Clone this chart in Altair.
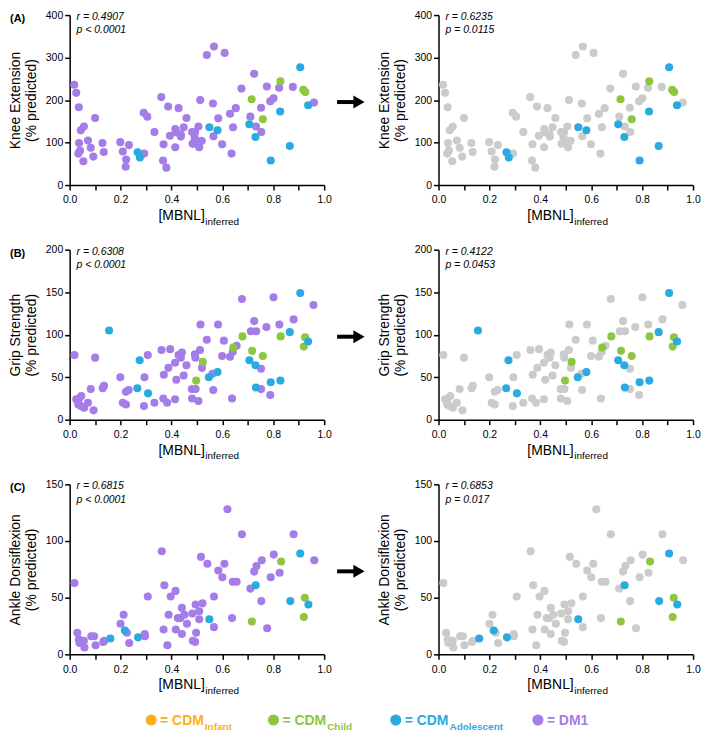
import altair as alt
import pandas as pd

# ---------------- data ----------------
GROUPS = ["CDM Infant", "CDM Child", "CDM Adolescent", "DM1"]
COLORS = ["#FBB01B", "#8DC63F", "#29ABE2", "#A47DE8"]
GREY = "#CBCBCB"

# Knee extension (% predicted)
knee_dm1_x = [0.018, 0.026, 0.036, 0.056, 0.044, 0.037, 0.041, 0.034, 0.054, 0.072, 0.083, 0.093, 0.100,
              0.129, 0.134, 0.199, 0.209, 0.222, 0.220, 0.233, 0.293, 0.291, 0.305, 0.333, 0.360, 0.367,
              0.380, 0.369, 0.387, 0.394, 0.415, 0.419, 0.415, 0.428, 0.437, 0.437, 0.448, 0.459, 0.481,
              0.493, 0.483, 0.497, 0.509, 0.519, 0.506, 0.513, 0.491, 0.539, 0.567, 0.609, 0.563, 0.565,
              0.584, 0.599, 0.630, 0.653, 0.642, 0.636, 0.675, 0.710, 0.725, 0.732, 0.753, 0.752, 0.775,
              0.788, 0.801, 0.823, 0.877, 0.960]
knee_dm1_y = [236, 217, 183, 138, 129, 99, 81, 74, 56, 105, 88, 67, 158,
              99, 78, 101, 79, 60, 43, 94, 74, 170, 161, 125, 207, 58,
              41, 96, 185, 116, 132, 124, 89, 181, 119, 114, 136, 158, 125,
              124, 97, 104, 89, 104, 138, 200, 112, 306, 326, 311, 192, 115,
              157, 96, 168, 181, 136, 74, 227, 161, 262, 138, 125, 182, 232,
              197, 204, 229, 231, 194]
knee_child_x = [0.715, 0.759, 0.828, 0.918, 0.926]
knee_child_y = [202, 155, 244, 224, 219]
knee_adol_x = [0.267, 0.276, 0.549, 0.581, 0.706, 0.730, 0.790, 0.827, 0.865, 0.906, 0.937]
knee_adol_y = [77, 65, 136, 129, 143, 113, 58, 173, 92, 277, 188]

# Grip strength (% predicted)
grip_dm1_x = [0.019, 0.026, 0.037, 0.046, 0.034, 0.044, 0.057, 0.072, 0.083, 0.094, 0.100, 0.130, 0.135,
              0.199, 0.209, 0.221, 0.221, 0.232, 0.307, 0.294, 0.292, 0.333, 0.361, 0.395, 0.370, 0.388,
              0.368, 0.383, 0.414, 0.419, 0.414, 0.428, 0.437, 0.441, 0.448, 0.459, 0.492, 0.494, 0.480,
              0.495, 0.481, 0.506, 0.514, 0.512, 0.520, 0.539, 0.561, 0.564, 0.583, 0.599, 0.606, 0.630,
              0.641, 0.656, 0.638, 0.677, 0.712, 0.725, 0.733, 0.752, 0.752, 0.773, 0.788, 0.801, 0.824,
              0.880, 0.958]
grip_dm1_y = [76, 24, 25, 28, 18, 16, 14, 20, 36, 11, 73, 37, 40,
              50, 20, 18, 33, 35, 76, 50, 16, 20, 82, 83, 53, 61,
              25, 20, 67, 47, 24, 76, 73, 79, 52, 64, 77, 73, 36,
              36, 25, 22, 112, 82, 61, 94, 54, 35, 112, 75, 93, 74,
              80, 87, 25, 142, 104, 116, 104, 60, 36, 109, 29, 144, 112,
              118, 135]
grip_child_x = [0.497, 0.523, 0.643, 0.679, 0.717, 0.759, 0.829, 0.920, 0.925]
grip_child_y = [46, 68, 85, 98, 81, 75, 98, 86, 97]
grip_adol_x = [0.155, 0.275, 0.266, 0.308, 0.547, 0.581, 0.706, 0.730, 0.732, 0.790, 0.828, 0.865, 0.906, 0.937]
grip_adol_y = [105, 70, 37, 31, 50, 56, 70, 64, 38, 44, 46, 103, 149, 92]

# Ankle dorsiflexion (% predicted)
ankle_dm1_x = [0.019, 0.030, 0.036, 0.045, 0.056, 0.039, 0.058, 0.085, 0.096, 0.102, 0.132, 0.136, 0.200,
               0.212, 0.225, 0.234, 0.295, 0.296, 0.307, 0.362, 0.372, 0.369, 0.384, 0.389, 0.397, 0.416,
               0.417, 0.425, 0.435, 0.441, 0.441, 0.451, 0.461, 0.482, 0.495, 0.484, 0.493, 0.497, 0.509,
               0.509, 0.516, 0.522, 0.541, 0.567, 0.567, 0.584, 0.600, 0.608, 0.620, 0.638, 0.641, 0.656,
               0.677, 0.710, 0.725, 0.734, 0.755, 0.753, 0.776, 0.790, 0.802, 0.825, 0.880, 0.961]
ankle_dm1_y = [63, 19, 13, 12, 12, 10, 6, 16, 16, 8, 11, 12, 27,
               35, 19, 10, 18, 16, 51, 91, 61, 22, 8, 35, 51, 56,
               22, 32, 32, 41, 18, 35, 27, 36, 44, 12, 11, 19, 38,
               31, 86, 45, 80, 51, 24, 74, 68, 80, 128, 32, 64, 64,
               106, 58, 73, 78, 83, 47, 23, 68, 88, 72, 106, 83]
ankle_child_x = [0.716, 0.831, 0.920, 0.924]
ankle_child_y = [29, 82, 33, 50]
ankle_adol_x = [0.160, 0.217, 0.269, 0.549, 0.731, 0.867, 0.906, 0.938]
ankle_adol_y = [14, 21, 15, 31, 61, 47, 89, 44]

panel_letters = ["(A)", "(B)", "(C)"]
y_titles = ["Knee Extension", "Grip Strength", "Ankle Dorsiflexion"]
y_max = [400, 200, 150]
y_step = [100, 50, 50]
stats_all = [("r = 0.4907", "p < 0.0001"), ("r = 0.6308", "p < 0.0001"), ("r = 0.6815", "p < 0.0001")]
stats_cdm = [("r = 0.6235", "p = 0.0115"), ("r = 0.4122", "p = 0.0453"), ("r = 0.6853", "p = 0.017")]
x_ticks = [0.0, 0.1, 0.2, 0.3, 0.4, 0.5, 0.6, 0.7, 0.8, 0.9, 1.0]

legend_main = ["= CDM", "= CDM", "= CDM", "= DM1"]
legend_sub = ["Infant", "Child", "Adolescent", ""]

# ---------------- layout constants ----------------
W, H = 256, 171
FONT = "Liberation Sans"
ONE = pd.DataFrame({"k": [0]})


def make_df(dx, dy, cx, cy, ax, ay):
    parts = [
        pd.DataFrame({"mbnl": dx, "pct": dy, "group": "DM1"}),
        pd.DataFrame({"mbnl": cx, "pct": cy, "group": "CDM Child"}),
        pd.DataFrame({"mbnl": ax, "pct": ay, "group": "CDM Adolescent"}),
    ]
    return pd.concat(parts, ignore_index=True)


dfs = [
    make_df(knee_dm1_x, knee_dm1_y, knee_child_x, knee_child_y, knee_adol_x, knee_adol_y),
    make_df(grip_dm1_x, grip_dm1_y, grip_child_x, grip_child_y, grip_adol_x, grip_adol_y),
    make_df(ankle_dm1_x, ankle_dm1_y, ankle_child_x, ankle_child_y, ankle_adol_x, ankle_adol_y),
]


def txt(text, x, y, size, weight="normal", style="normal", align="left", color="black"):
    return alt.Chart(ONE).mark_text(
        text=text, align=align, baseline="alphabetic", fontSize=size,
        fontWeight=weight, fontStyle=style, color=color, font=FONT
    ).encode(x=alt.value(x), y=alt.value(y))


def panel(i, cdm_only):
    df = dfs[i]
    x = alt.X("mbnl:Q", scale=alt.Scale(domain=[0, 1], nice=False),
              axis=alt.Axis(values=x_ticks, title=None, grid=False, labelFlush=False,
                            labelOverlap=False, labelPadding=5,
                            labelExpr="(round(datum.value*10) % 2 == 0) ? format(datum.value, '.1f') : ''"))
    y = alt.Y("pct:Q", scale=alt.Scale(domain=[0, y_max[i]], nice=False),
              axis=alt.Axis(values=list(range(0, y_max[i] + 1, y_step[i])),
                            title=[y_titles[i], "(% predicted)"], grid=False, labelFlush=False))
    base = alt.Chart(df).encode(x=x, y=y)
    color = alt.Color("group:N", scale=alt.Scale(domain=GROUPS, range=COLORS), legend=None)
    dm1 = base.transform_filter("datum.group == 'DM1'")
    cdm = base.transform_filter("datum.group != 'DM1'")
    if cdm_only:
        l1 = dm1.mark_circle(size=66, opacity=1, color=GREY)
    else:
        l1 = dm1.mark_circle(size=66, opacity=1).encode(color=color)
    l2 = cdm.mark_circle(size=66, opacity=1).encode(color=color)
    st = stats_cdm[i] if cdm_only else stats_all[i]
    layers = [
        l1, l2,
        txt(st[0], 7, 5, 10.5, style="italic"),
        txt(st[1], 7, 18.5, 10.5, style="italic"),
        txt("[MBNL]", 136, H + 35, 14, align="right"),
        txt("inferred", 136.5, H + 40, 10),
    ]
    if not cdm_only:
        layers.append(txt(panel_letters[i], -60, 7, 11, weight="bold"))
        layers.append(alt.Chart(ONE).mark_rule(strokeWidth=4, color="black").encode(
            x=alt.value(269), x2=alt.value(287), y=alt.value(H / 2 + 2)))
        layers.append(alt.Chart(ONE).mark_point(shape="triangle-right", size=170, filled=True,
                                               opacity=1, color="black").encode(
            x=alt.value(291), y=alt.value(H / 2 + 2)))
        if i == 2:
            lx = [82, 205, 328, 471]
            ly = H + 66
            for k in range(4):
                layers.append(alt.Chart(ONE).mark_circle(size=125, opacity=1, color=COLORS[k]).encode(
                    x=alt.value(lx[k]), y=alt.value(ly)))
                layers.append(txt(legend_main[k], lx[k] + 9, ly + 5, 14, weight="bold", color=COLORS[k]))
                if legend_sub[k]:
                    layers.append(txt(legend_sub[k], lx[k] + 54, ly + 10, 10, weight="bold", color=COLORS[k]))
    return alt.layer(*layers).properties(width=W, height=H)


panels = []
for i in range(3):
    panels.append(panel(i, False))
    panels.append(panel(i, True))

chart = alt.concat(
    *panels, columns=2, spacing=alt.RowColnumber(row=65, column=115), bounds="flush"
).properties(padding=0).configure_view(
    strokeWidth=0
).configure_axis(
    domainColor="black", domainWidth=1.5, tickColor="black", tickWidth=1.5, tickSize=5,
    labelFont=FONT, labelFontSize=10.5, labelColor="black", labelPadding=2,
    titleFont=FONT, titleFontSize=14, titleFontWeight="normal", titleColor="black",
    titleLineHeight=16, titlePadding=7
)

chart.save("out.html", embed_options={"renderer": "svg", "actions": False})
